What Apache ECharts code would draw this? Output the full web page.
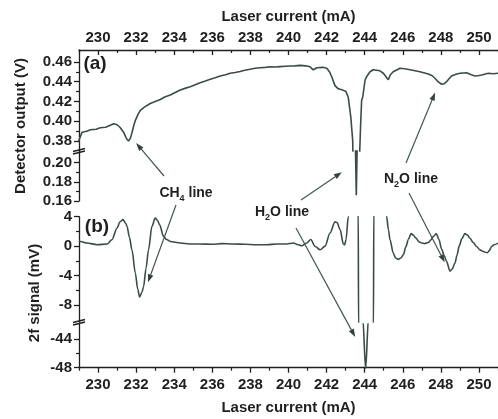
<!DOCTYPE html>
<html><head><meta charset="utf-8">
<script src="https://cdn.jsdelivr.net/npm/echarts@6/dist/echarts.min.js"></script>
<style>html,body{margin:0;padding:0;background:#fff}#c{width:498px;height:419px}</style>
</head><body><div id="c"></div>
<script>
// ---------------- data ----------------
const xMajorTicks = [230, 232, 234, 236, 238, 240, 242, 244, 246, 248, 250];
const xMinorTicks = [229, 231, 233, 235, 237, 239, 241, 243, 245, 247, 249, 251];
const detTicks = [0.38, 0.40, 0.42, 0.44, 0.46];
const detMinor = [0.39, 0.41, 0.43, 0.45];
const detLowTicks = [0.16, 0.18, 0.20];
const detLowMinor = [0.17, 0.19];
const sigTicks = [4, 0, -4, -8];
const sigMinor = [2, -2, -6];
const sigLowTicks = [-44, -48];
const sigLowMinor = [-46];

// (a) detector output (V) vs laser current (mA)
const detX = [228.98, 229.16, 229.4, 229.6, 229.9, 230.12, 230.4, 230.64, 230.82, 231.0, 231.15, 231.34, 231.48, 231.6, 231.7, 231.78, 231.88, 231.96, 232.1, 232.22, 232.45, 232.74, 233.0, 233.27, 233.5, 233.79, 234.05, 234.32, 234.6, 234.84, 235.1, 235.36, 235.6, 235.89, 236.15, 236.41, 236.7, 236.94, 237.2, 237.46, 237.7, 237.99, 238.25, 238.51, 238.8, 239.05, 239.3, 239.56, 239.85, 240.1, 240.35, 240.61, 240.9, 241.13, 241.3, 241.39, 241.5, 241.57, 241.8, 242.01, 242.15, 242.27, 242.44, 242.6, 242.71, 242.85, 243.02, 243.14, 243.27, 243.37, 243.45, 243.52, 243.56, 243.6, 243.68, 243.74, 243.79, 243.84, 243.9, 244.02, 244.1, 244.28, 244.45, 244.54, 244.8, 244.98, 245.1, 245.24, 245.35, 245.5, 245.7, 245.85, 246.1, 246.38, 246.65, 246.9, 247.15, 247.34, 247.55, 247.69, 247.85, 248.04, 248.18, 248.3, 248.45, 248.56, 248.8, 249.0, 249.35, 249.6, 249.79, 250.0, 250.14, 250.49, 250.75, 251.0];
const detY = [0.380, 0.389, 0.390, 0.3915, 0.392, 0.3935, 0.394, 0.396, 0.3975, 0.3965, 0.394, 0.389, 0.383, 0.380, 0.383, 0.3885, 0.396, 0.401, 0.407, 0.411, 0.4145, 0.418, 0.420, 0.422, 0.4245, 0.4265, 0.429, 0.4316, 0.4335, 0.435, 0.437, 0.439, 0.4405, 0.4424, 0.444, 0.4458, 0.447, 0.4485, 0.4492, 0.4502, 0.4515, 0.4526, 0.4535, 0.454, 0.4545, 0.455, 0.4548, 0.4552, 0.4556, 0.4558, 0.456, 0.4565, 0.456, 0.455, 0.452, 0.4515, 0.454, 0.4555, 0.4545, 0.4535, 0.450, 0.445, 0.436, 0.433, 0.4323, 0.4315, 0.430, 0.424, 0.4045, 0.381, 0.300, 0.210, 0.166, 0.210, 0.300, 0.370, 0.398, 0.421, 0.4248, 0.4417, 0.445, 0.450, 0.452, 0.452, 0.451, 0.4485, 0.4455, 0.442, 0.447, 0.450, 0.452, 0.4536, 0.453, 0.452, 0.451, 0.450, 0.4488, 0.4478, 0.446, 0.4435, 0.440, 0.4374, 0.438, 0.440, 0.4435, 0.4458, 0.4475, 0.4485, 0.4491, 0.447, 0.4458, 0.4462, 0.4468, 0.4485, 0.448, 0.4485];

// (b) 2f signal (mV) vs laser current (mA)
const sigX = [229.0, 229.07, 229.42, 229.95, 230.47, 230.73, 231.0, 231.15, 231.31, 231.45, 231.52, 231.65, 231.78, 231.96, 232.08, 232.18, 232.3, 232.39, 232.52, 232.65, 232.83, 233.0, 233.12, 233.23, 233.44, 233.6, 233.79, 234.32, 234.8, 235.36, 236.0, 236.5, 237.1, 237.7, 238.3, 238.86, 239.4, 239.91, 240.26, 240.5, 240.7, 240.96, 241.17, 241.4, 241.66, 241.92, 242.18, 242.44, 242.55, 242.71, 242.88, 242.95, 243.02, 243.14, 243.42, 243.66, 243.68, 243.9, 244.05, 244.2, 244.46, 244.48, 244.82, 245.15, 245.25, 245.33, 245.5, 245.62, 245.76, 245.9, 246.03, 246.16, 246.29, 246.44, 246.55, 246.69, 246.85, 246.99, 247.15, 247.34, 247.48, 247.6, 247.76, 247.9, 248.04, 248.18, 248.3, 248.48, 248.6, 248.74, 248.85, 248.96, 249.1, 249.26, 249.4, 249.52, 249.7, 249.87, 250.05, 250.22, 250.44, 250.55, 250.66, 250.8, 251.0];
const sigY = [0.7, 0.64, 0.42, 0.2, 0.29, 0.87, 2.47, 3.3, 3.6, 3.1, 2.69, 1.2, -0.49, -3.67, -5.8, -6.9, -6.3, -5.5, -3.0, -0.49, 2.69, 3.8, 3.5, 2.92, 1.32, 0.9, 0.64, 0.42, 0.3, 0.29, 0.25, 0.35, 0.29, 0.25, 0.2, 0.19, 0.3, 0.29, 0.42, 0.2, 0.05, 0.42, 0.9, -0.04, -0.49, 0.0, 1.79, 3.3, 3.2, 2.24, 0.3, 0.19, 0.87, 4.0, 16, 5, -11, -41, -48.2, -41, -11, 5, 16, 4.05, 2.2, 0.87, -0.94, -1.6, -1.8, -1.6, -1.17, -0.1, 0.9, 1.7, 1.5, 1.1, 0.6, 0.42, 0.35, 0.5, 0.85, 1.3, 1.7, 0.9, -0.4, -1.3, -2.09, -3.4, -3.1, -2.3, -1.2, 0.0, 1.0, 1.7, 1.5, 1.1, 0.5, -0.04, -0.5, -0.72, -0.9, -0.6, -0.04, 0.2, 0.42];

// ---------------- style / layout ----------------
const FONT = 'Liberation Sans';
const INK = '#1f1f1f';
const LINE = '#3a4c4a';
const L = 79;
const X_MIN = 229, X_MAX = 251;
const grids = [
  { left: L, right: 0, top: 50, height: 101 },
  { left: L, right: 0, top: 151, height: 50 },
  { left: L, right: 0, top: 216.7, height: 105.3 },
  { left: L, right: 0, top: 324, height: 43.7 }
];
const labelStyle = { color: INK, fontFamily: FONT, fontWeight: 'bold', fontSize: 15 };

function yMajor(gi, min, max, ticks, dec) {
  return {
    type: 'value', gridIndex: gi, position: 'left', min: min, max: max,
    axisLine: { show: true, lineStyle: { color: INK, width: 1.3 } },
    axisTick: { show: true, customValues: ticks, length: 5, lineStyle: { color: INK, width: 1.3 } },
    axisLabel: Object.assign({ customValues: ticks, margin: 7, formatter: v => dec ? Number(v).toFixed(dec) : String(Math.round(v)) }, labelStyle),
    splitLine: { show: false }
  };
}
function yMinor(gi, min, max, ticks) {
  return {
    type: 'value', gridIndex: gi, position: 'left', min: min, max: max,
    axisLine: { show: false },
    axisTick: { show: true, customValues: ticks, length: 3, lineStyle: { color: INK, width: 1.2 } },
    axisLabel: { show: false }, splitLine: { show: false }
  };
}
function xHidden(gi) {
  return { type: 'value', gridIndex: gi, min: X_MIN, max: X_MAX, show: false, splitLine: { show: false } };
}

const option = {
  animation: false,
  backgroundColor: '#fff',
  grid: grids,
  xAxis: [
    { type: 'value', gridIndex: 0, position: 'top', min: X_MIN, max: X_MAX,
      axisLine: { show: true, lineStyle: { color: INK, width: 1.3 } },
      axisTick: { show: true, inside: true, customValues: xMajorTicks, length: 5, lineStyle: { color: INK, width: 1.3 } },
      axisLabel: Object.assign({ customValues: xMajorTicks, margin: 5 }, labelStyle),
      splitLine: { show: false },
      name: 'Laser current (mA)', nameLocation: 'middle', nameGap: 26,
      nameTextStyle: labelStyle },
    { type: 'value', gridIndex: 0, position: 'top', min: X_MIN, max: X_MAX,
      axisLine: { show: false },
      axisTick: { show: true, inside: true, customValues: xMinorTicks, length: 3, lineStyle: { color: INK, width: 1.2 } },
      axisLabel: { show: false }, splitLine: { show: false } },
    xHidden(1),
    xHidden(2),
    { type: 'value', gridIndex: 3, position: 'bottom', min: X_MIN, max: X_MAX,
      axisLine: { show: true, lineStyle: { color: INK, width: 1.3 } },
      axisTick: { show: true, customValues: xMajorTicks, length: 5, lineStyle: { color: INK, width: 1.3 } },
      axisLabel: Object.assign({ customValues: xMajorTicks, margin: 10 }, labelStyle),
      splitLine: { show: false },
      name: 'Laser current (mA)', nameLocation: 'middle', nameGap: 33,
      nameTextStyle: labelStyle },
    { type: 'value', gridIndex: 3, position: 'bottom', min: X_MIN, max: X_MAX,
      axisLine: { show: false },
      axisTick: { show: true, customValues: xMinorTicks, length: 3, lineStyle: { color: INK, width: 1.2 } },
      axisLabel: { show: false }, splitLine: { show: false } }
  ],
  yAxis: [
    yMajor(0, 0.37, 0.472, detTicks, 2),
    yMinor(0, 0.37, 0.472, detMinor),
    yMajor(1, 0.16, 0.212, detLowTicks, 2),
    yMinor(1, 0.16, 0.212, detLowMinor),
    yMajor(2, -10.3, 4, sigTicks, 0),
    yMinor(2, -10.3, 4, sigMinor),
    yMajor(3, -48, -41.9, sigLowTicks, 0),
    yMinor(3, -48, -41.9, sigLowMinor)
  ],
  series: []
};

const detData = detX.map((x, i) => [x, detY[i]]);
const sigData = sigX.map((x, i) => [x, sigY[i]]);
const lineSeries = (xi, yi, data, smooth) => ({
  type: 'line', xAxisIndex: xi, yAxisIndex: yi, data: data, symbol: 'none', showSymbol: false,
  clip: true, smooth: smooth, smoothMonotone: 'x',
  lineStyle: { color: LINE, width: 1.6 }, silent: true
});
option.series = [
  lineSeries(0, 0, detData, false),
  lineSeries(2, 2, detData, false),
  lineSeries(3, 4, sigData, 0.3),
  lineSeries(4, 6, sigData, 0.3)
];

const chart = echarts.init(document.getElementById('c'), null, { renderer: 'canvas' });
chart.setOption(option);

// ---------------- annotations ----------------
const els = [];
function txt(x, y, text, size, extra) {
  els.push(Object.assign({ type: 'text', x: x, y: y, silent: true,
    style: { text: text, fill: INK, font: 'bold ' + size + 'px "' + FONT + '"', align: 'center', verticalAlign: 'middle' } }, extra || {}));
}
function rich(x, y, main, sub, rest) {
  els.push({ type: 'text', x: x, y: y, silent: true,
    style: { text: '{n|' + main + '}{s|' + sub + '}{n|' + rest + '}', align: 'center', verticalAlign: 'middle',
      rich: {
        n: { fill: INK, fontSize: 14, fontWeight: 'bold', fontFamily: FONT, lineHeight: 16, verticalAlign: 'bottom' },
        s: { fill: INK, fontSize: 9, fontWeight: 'bold', fontFamily: FONT, lineHeight: 9, verticalAlign: 'bottom', padding: [0, 0, -3, 0] }
      } } });
}
function arrow(tail, tip) {
  const dx = tip[0] - tail[0], dy = tip[1] - tail[1];
  const len = Math.sqrt(dx * dx + dy * dy);
  const ux = dx / len, uy = dy / len;
  const hl = 8, hw = 2.8;
  const bx = tip[0] - ux * hl, by = tip[1] - uy * hl;
  els.push({ type: 'line', silent: true, shape: { x1: tail[0], y1: tail[1], x2: bx, y2: by },
    style: { stroke: '#445654', lineWidth: 1.2 } });
  els.push({ type: 'polygon', silent: true,
    shape: { points: [[tip[0], tip[1]], [bx - uy * hw, by + ux * hw], [bx + uy * hw, by - ux * hw]] },
    style: { fill: '#33413f' } });
}
function brk(y) {
  els.push({ type: 'line', silent: true, shape: { x1: L - 6, y1: y + 1.5, x2: L + 6, y2: y - 1.5 }, style: { stroke: INK, lineWidth: 1.4 } });
  els.push({ type: 'line', silent: true, shape: { x1: L - 6, y1: y + 4, x2: L + 6, y2: y + 1 }, style: { stroke: INK, lineWidth: 1.4 } });
}
const px = (gi, pt) => chart.convertToPixel({ gridIndex: gi }, pt);

txt(95, 64, '(a)', 19, {});
txt(97, 227, '(b)', 19, {});
txt(21, 126, 'Detector output (V)', 15, { rotation: Math.PI / 2 });
txt(35, 293, '2f signal (mV)', 15, { rotation: Math.PI / 2 });
rich(186, 192, 'CH', '4', ' line');
rich(282, 211, 'H', '2', 'O line');
rich(411, 178, 'N', '2', 'O line');

arrow([164, 176], px(0, [232.0, 0.378]));
arrow([176, 205], px(2, [232.62, -4.9]));
arrow([301, 200], px(1, [242.8, 0.19]));
arrow([296, 228], px(3, [243.5, -43.7]));
arrow([406, 163], px(0, [247.7, 0.429]));
arrow([409, 193], px(2, [248.2, -2.2]));

brk(150);
brk(321);

chart.setOption({ graphic: { elements: els } });
</script>
</body></html>
